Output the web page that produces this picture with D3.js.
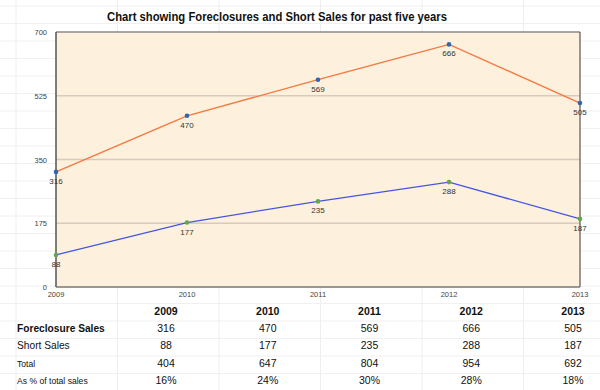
<html>
<head>
<script src="https://d3js.org/d3.v7.min.js"></script>
<style>
  body { margin: 0; background: #fff; }
  text { font-family: Helvetica, "Liberation Sans", Arial, sans-serif; }
</style>
</head>
<body>
<script>
    var years = ['2009', '2010', '2011', '2012', '2013'];
    var foreclosures = [316, 470, 569, 666, 505];
    var shortSales = [88, 177, 235, 288, 187];
    var totals = [404, 647, 804, 954, 692];
    var pctOfTotal = ['16%', '24%', '30%', '28%', '18%'];
    var yTicks = [0, 175, 350, 525, 700];

    var width = 600, height = 390;
    var svg = d3.select('body').append('svg').attr('width', width).attr('height', height);

    // faint spreadsheet cell grid behind everything
    var colLines = d3.range(16, width, 101.5);
    var rowLines = d3.range(303.5 - 17.5 * 17, height, 17.5);
    svg.selectAll('.vcell').data(colLines).enter().append('line')
        .attr('x1', function(d){return d}).attr('x2', function(d){return d})
        .attr('y1', 0).attr('y2', height).attr('stroke', '#eeeeee');
    svg.selectAll('.hcell').data(rowLines).enter().append('line')
        .attr('x1', 0).attr('x2', width)
        .attr('y1', function(d){return d}).attr('y2', function(d){return d}).attr('stroke', '#f0f0f0');

    svg.append('text').attr('x', 277).attr('y', 21).attr('text-anchor', 'middle')
        .attr('font-size', 13).attr('font-weight', 'bold').attr('fill', '#111')
        .attr('textLength', 340).attr('lengthAdjust', 'spacingAndGlyphs')
        .text('Chart showing Foreclosures and Short Sales for past five years');

    var pLeft = 56, pRight = 580, pTop = 32, pBottom = 287;
    var x = d3.scalePoint().domain(years).range([pLeft, pRight]);
    var y = d3.scaleLinear().domain([0, 700]).range([pBottom, pTop]);

    svg.append('rect').attr('x', pLeft).attr('y', pTop).attr('width', pRight - pLeft).attr('height', pBottom - pTop)
        .attr('fill', '#fdf0dc');

    svg.selectAll('.grid').data(yTicks.slice(1, 4)).enter().append('line')
        .attr('x1', pLeft).attr('x2', pRight)
        .attr('y1', function(d){return y(d)}).attr('y2', function(d){return y(d)})
        .attr('stroke', '#d6cbbd').attr('stroke-width', 1.5);

    // frame
    svg.append('line').attr('x1', pLeft).attr('x2', pRight).attr('y1', pTop).attr('y2', pTop)
        .attr('stroke', '#8a8a8a').attr('stroke-width', 1.5);
    svg.append('line').attr('x1', pRight).attr('x2', pRight).attr('y1', pTop).attr('y2', pBottom)
        .attr('stroke', '#555').attr('stroke-width', 1.2);
    svg.append('line').attr('x1', pLeft).attr('x2', pLeft).attr('y1', pTop).attr('y2', pBottom)
        .attr('stroke', '#555').attr('stroke-width', 1.5);
    svg.append('line').attr('x1', pLeft).attr('x2', pRight).attr('y1', pBottom).attr('y2', pBottom)
        .attr('stroke', '#777').attr('stroke-width', 1.5);

    svg.selectAll('.ylab').data(yTicks).enter().append('text')
        .attr('x', pLeft - 9).attr('y', function(d){return y(d) + 3})
        .attr('text-anchor', 'end').attr('font-size', 7.5).attr('fill', '#444')
        .text(function(d){return d});

    svg.selectAll('.xlab').data(years).enter().append('text')
        .attr('x', function(d){return x(d)}).attr('y', pBottom + 10)
        .attr('text-anchor', 'middle').attr('font-size', 7.5).attr('fill', '#444')
        .text(function(d){return d});

    function drawSeries(values, lineColor, dotColor) {
        var line = d3.line().x(function(d, i){return x(years[i])}).y(function(d){return y(d)});
        svg.append('path').attr('d', line(values)).attr('fill', 'none')
            .attr('stroke', lineColor).attr('stroke-width', 1.3);
        svg.selectAll(null).data(values).enter().append('circle')
            .attr('cx', function(d, i){return x(years[i])}).attr('cy', function(d){return y(d)})
            .attr('r', 2.3).attr('fill', dotColor);
        svg.selectAll(null).data(values).enter().append('text')
            .attr('x', function(d, i){return x(years[i])}).attr('y', function(d){return y(d) + 12})
            .attr('text-anchor', 'middle').attr('font-size', 8).attr('fill', '#333')
            .text(function(d){return d});
    }
    drawSeries(foreclosures, '#f5773f', '#2f66ad');
    drawSeries(shortSales, '#4455e6', '#63a84b');

    // data table under the chart
    var colX = d3.scalePoint().domain(years).range([166, 573]);
    var rows = [
        {label: 'Foreclosure Sales', vals: foreclosures, size: 10.2, weight: 'bold'},
        {label: 'Short Sales', vals: shortSales, size: 10.2, weight: 'normal'},
        {label: 'Total', vals: totals, size: 8.6, weight: 'normal'},
        {label: 'As % of total sales', vals: pctOfTotal, size: 8.6, weight: 'normal'}
    ];
    svg.selectAll('.hdr').data(years).enter().append('text')
        .attr('x', function(d){return colX(d)}).attr('y', 315)
        .attr('text-anchor', 'middle').attr('font-size', 10.5).attr('font-weight', 'bold').attr('fill', '#111')
        .text(function(d){return d});
    rows.forEach(function(r, ri){
        var yy = 332 + ri * 17.3;
        svg.append('text').attr('x', 17).attr('y', yy).attr('font-size', r.size)
            .attr('font-weight', r.weight).attr('fill', '#111').text(r.label);
        svg.selectAll(null).data(r.vals).enter().append('text')
            .attr('x', function(d, i){return colX(years[i])}).attr('y', yy)
            .attr('text-anchor', 'middle').attr('font-size', 10.5).attr('fill', '#111')
            .text(function(d){return d});
    });
</script>
</body>
</html>
